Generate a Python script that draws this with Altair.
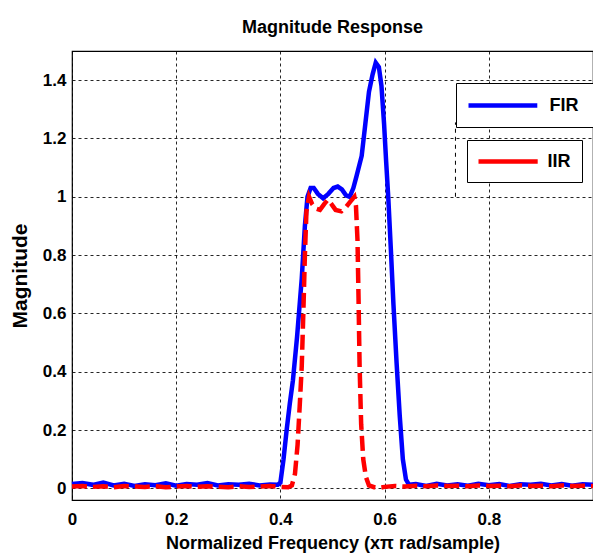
import altair as alt
import pandas as pd

FONT = "Liberation Sans, Arial, sans-serif"

# ---- data ----
fir_freq = [0.00, 0.02, 0.04, 0.06, 0.08, 0.10, 0.12, 0.14, 0.16, 0.18, 0.20, 0.22, 0.24,
            0.26, 0.28, 0.30, 0.32, 0.34, 0.36, 0.38, 0.395,
            0.400, 0.406, 0.412, 0.418, 0.424, 0.432, 0.441, 0.447, 0.452, 0.458, 0.464,
            0.472, 0.482, 0.492, 0.502, 0.510, 0.518, 0.526, 0.533, 0.540, 0.546, 0.556,
            0.563, 0.570, 0.577, 0.583, 0.589, 0.594, 0.599, 0.603, 0.607, 0.612, 0.617,
            0.623, 0.629, 0.635, 0.641, 0.647,
            0.66, 0.68, 0.70, 0.72, 0.74, 0.76, 0.78, 0.80, 0.82, 0.84, 0.86, 0.88, 0.90,
            0.92, 0.94, 0.96, 0.98, 1.00]
fir_mag = [0.015, 0.018, 0.012, 0.020, 0.010, 0.016, 0.008, 0.014, 0.011, 0.017, 0.009, 0.015, 0.012,
           0.018, 0.010, 0.014, 0.012, 0.016, 0.010, 0.013, 0.012,
           0.02, 0.10, 0.20, 0.29, 0.37, 0.52, 0.72, 0.90, 1.00, 1.03, 1.03,
           1.01, 0.995, 1.01, 1.03, 1.035, 1.025, 1.005, 1.0, 1.03, 1.07, 1.14,
           1.25, 1.36, 1.42, 1.46, 1.445, 1.38, 1.25, 1.12, 1.00, 0.82, 0.63,
           0.43, 0.25, 0.10, 0.03, 0.012,
           0.015, 0.008, 0.016, 0.010, 0.014, 0.009, 0.016, 0.011, 0.015, 0.008, 0.014, 0.012, 0.016,
           0.010, 0.015, 0.009, 0.014, 0.012]

iir_freq = [0.00, 0.02, 0.04, 0.06, 0.08, 0.10, 0.12, 0.14, 0.16, 0.18, 0.20, 0.22, 0.24,
            0.26, 0.28, 0.30, 0.32, 0.34, 0.36, 0.38, 0.40, 0.415,
            0.422, 0.428, 0.433, 0.437, 0.441, 0.444, 0.447, 0.450, 0.455, 0.461, 0.468,
            0.476, 0.484, 0.491, 0.498, 0.506, 0.517, 0.526, 0.535, 0.542, 0.545, 0.548,
            0.550, 0.552, 0.555, 0.559, 0.564, 0.570,
            0.58, 0.59, 0.60, 0.62, 0.64, 0.66, 0.68, 0.70, 0.72, 0.74, 0.76, 0.78, 0.80,
            0.82, 0.84, 0.86, 0.88, 0.90, 0.92, 0.94, 0.96, 0.98, 1.00]
iir_mag = [0.006, 0.008, 0.005, 0.007, 0.004, 0.008, 0.006, 0.005, 0.007, 0.004, 0.006, 0.008, 0.005,
           0.007, 0.006, 0.004, 0.007, 0.005, 0.006, 0.008, 0.005, 0.004,
           0.01, 0.05, 0.15, 0.28, 0.42, 0.60, 0.80, 0.95, 1.00, 0.975, 0.96,
           0.955, 0.975, 0.99, 0.975, 0.955, 0.95, 0.965, 0.985, 1.00, 0.97, 0.85,
           0.65, 0.42, 0.22, 0.10, 0.04, 0.01,
           0.004, 0.002, 0.005, 0.008, 0.006, 0.009, 0.007, 0.010, 0.008, 0.009, 0.007, 0.010, 0.008,
           0.009, 0.007, 0.010, 0.008, 0.009, 0.007, 0.010, 0.008, 0.009, 0.008]

series_names = ["FIR", "IIR"]
series_colors = ["#0000ff", "#ff0000"]
x_ticks = [0, 0.2, 0.4, 0.6, 0.8]
y_ticks = [0, 0.2, 0.4, 0.6, 0.8, 1.0, 1.2, 1.4]
ghost_x = [0.736]
ghost_y = [1.0]
ghost_y2 = [1.255]

fir_df = pd.DataFrame({"f": fir_freq, "m": fir_mag, "series": series_names[0]})
iir_df = pd.DataFrame({"f": iir_freq, "m": iir_mag, "series": series_names[1]})
ghost_df = pd.DataFrame({"x": ghost_x, "y": ghost_y, "y2": ghost_y2})

x_scale = alt.Scale(domain=[0, 1], nice=False, zero=False)
y_scale = alt.Scale(domain=[-0.04, 1.5], nice=False, zero=False)

x_axis = alt.Axis(values=x_ticks, format="~g", title="Normalized Frequency (xπ rad/sample)",
                  labelFlush=False, labelOverlap=False)
y_axis = alt.Axis(values=y_ticks, format="~g", title="Magnitude", labelOverlap=False)


def legend(x, y, length_path, sym_offset, label_offset, pad, extend=False):
    kw = dict(
        orient="none", legendX=x, legendY=y,
        fillColor="white", strokeColor="black", padding=pad,
        symbolType=length_path, symbolSize=256, symbolStrokeWidth=4.5,
        symbolOffset=sym_offset, labelOffset=label_offset,
        symbolDash=[1, 0],
        labelFont=FONT, labelFontSize=18, labelFontWeight="bold", labelColor="black",
    )
    if extend:
        # small invisible spacer so the FIR box runs past the right edge, as in the reference
        kw.update(title=".", titleOrient="right", titleFontSize=18, titleColor="white",
                  titlePadding=5)
    else:
        kw.update(title=None)
    return alt.Legend(**kw)


fir = alt.Chart(fir_df).mark_line(strokeWidth=4.5, strokeCap="butt").encode(
    x=alt.X("f:Q", scale=x_scale, axis=x_axis),
    y=alt.Y("m:Q", scale=y_scale, axis=y_axis),
    color=alt.Color("series:N",
                    scale=alt.Scale(domain=[series_names[0]], range=[series_colors[0]]),
                    legend=legend(384, 32, "M-4.3,0H4.3", 24.4, 36, 12, extend=True)),
)

iir = alt.Chart(iir_df).mark_line(strokeWidth=4.5, strokeDash=[15, 6], strokeCap="butt").encode(
    x=alt.X("f:Q", scale=x_scale, axis=x_axis),
    y=alt.Y("m:Q", scale=y_scale, axis=y_axis),
    color=alt.Color("series:N",
                    scale=alt.Scale(domain=[series_names[1]], range=[series_colors[1]]),
                    legend=legend(395, 89, "M-3.7,0H3.7", 19.6, 29, 11)),
)

ghost = alt.Chart(ghost_df).mark_rule(color="black", strokeDash=[4, 4], strokeWidth=1).encode(
    x=alt.X("x:Q", scale=x_scale),
    y=alt.Y("y:Q", scale=y_scale),
    y2="y2:Q",
)

chart = alt.layer(ghost, fir, iir).resolve_scale(color="independent").properties(
    width=521, height=449,
    autosize=alt.AutoSizeParams(type="none"),
    padding={"left": 72, "top": 51, "right": 0, "bottom": 60},
    background="white",
    title=alt.TitleParams("Magnitude Response", font=FONT, fontSize=18, fontWeight="bold",
                          color="black", anchor="middle", offset=14),
).configure_view(
    stroke="black", strokeWidth=1.2
).configure_axis(
    grid=True, gridColor="black", gridDash=[3, 3], gridWidth=1, gridOpacity=0.85,
    ticks=False, domain=False,
    labelFont=FONT, labelFontSize=17, labelFontWeight="bold", labelColor="black",
    titleFont=FONT, titleFontSize=18, titleFontWeight="bold", titleColor="black",
).configure_axisX(
    labelPadding=11, titlePadding=7
).configure_axisY(
    labelPadding=6, titlePadding=12, titleFontSize=21
)

chart.save("out.html", embed_options={"renderer": "svg", "actions": False})
